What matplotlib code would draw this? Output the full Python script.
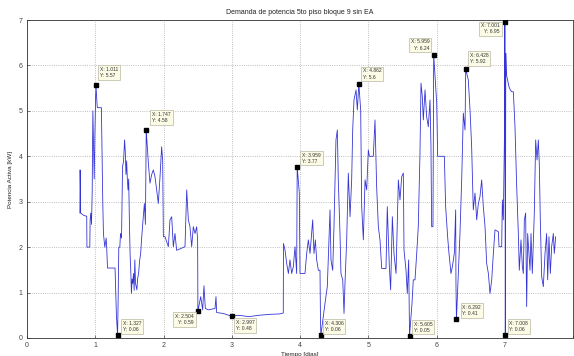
import matplotlib
matplotlib.use("Agg")
import matplotlib.pyplot as plt

# ---- data (time in days, active power in kW) ----
t = [0.775, 0.778, 0.782, 0.786, 0.83, 0.875, 0.878, 0.92, 0.925, 0.935, 0.945, 0.955, 0.965,
     0.975, 0.985, 0.995, 1.005, 1.011, 1.02, 1.03, 1.09, 1.10, 1.11, 1.12, 1.14, 1.16, 1.17,
     1.18, 1.29, 1.30, 1.31, 1.327, 1.335, 1.345, 1.36, 1.37, 1.385, 1.40, 1.415, 1.43, 1.44,
     1.45, 1.46, 1.47, 1.48, 1.49, 1.50, 1.51, 1.52, 1.53, 1.54, 1.55, 1.56, 1.57, 1.58, 1.59,
     1.60, 1.61, 1.62, 1.635, 1.65, 1.665, 1.68, 1.70, 1.72, 1.735, 1.747, 1.778, 1.802, 1.827,
     1.851, 1.875, 1.90, 1.924, 1.949, 1.973, 1.988, 1.998, 2.022, 2.071, 2.095, 2.12, 2.144,
     2.168, 2.193, 2.315, 2.34, 2.364, 2.388, 2.413, 2.437, 2.462, 2.486, 2.50, 2.504, 2.545,
     2.574, 2.593, 2.613, 2.657, 2.755, 2.769, 2.779, 2.877, 2.997, 3.10, 3.25, 3.40, 3.55,
     3.70, 3.755, 3.758, 3.78, 3.805, 3.83, 3.853, 3.878, 3.902, 3.927, 3.951, 3.959, 3.99,
     4.0, 4.073, 4.098, 4.122, 4.147, 4.171, 4.186, 4.205, 4.225, 4.244, 4.269, 4.293, 4.30,
     4.306, 4.366, 4.40, 4.44, 4.454, 4.479, 4.498, 4.527, 4.547, 4.561, 4.586, 4.60, 4.626,
     4.645, 4.659, 4.684, 4.708, 4.733, 4.757, 4.772, 4.791, 4.821, 4.84, 4.862, 4.889, 4.904,
     4.928, 4.953, 4.977, 5.001, 5.016, 5.074, 5.099, 5.123, 5.148, 5.172, 5.197, 5.26, 5.279,
     5.309, 5.328, 5.353, 5.377, 5.407, 5.441, 5.465, 5.49, 5.514, 5.524, 5.553, 5.572, 5.592,
     5.605, 5.641, 5.66, 5.685, 5.71, 5.733, 5.758, 5.773, 5.792, 5.807, 5.832, 5.856, 5.88,
     5.905, 5.919, 5.929, 5.948, 5.959, 6.003, 6.017, 6.115, 6.134, 6.163, 6.183, 6.212, 6.232,
     6.261, 6.281, 6.285, 6.292, 6.344, 6.369, 6.393, 6.418, 6.428, 6.466, 6.491, 6.515, 6.539,
     6.564, 6.589, 6.613, 6.637, 6.662, 6.686, 6.711, 6.735, 6.76, 6.784, 6.809, 6.833, 6.857,
     6.906, 6.916, 6.955, 6.965, 6.979, 6.995, 7.001, 7.004, 7.008, 7.015, 7.025, 7.062, 7.082,
     7.101, 7.126, 7.15, 7.175, 7.199, 7.213, 7.238, 7.258, 7.272, 7.287, 7.306, 7.321, 7.336,
     7.355, 7.37, 7.385, 7.404, 7.433, 7.453, 7.473, 7.492, 7.506, 7.521, 7.541, 7.565, 7.59,
     7.614, 7.629, 7.648, 7.668, 7.687, 7.712, 7.726, 7.746]
p = [2.75, 3.70, 3.35, 2.75, 2.70, 2.68, 2.0, 2.0, 2.6, 2.75, 2.5, 3.2, 5.0,
     4.2, 3.5, 4.5, 5.3, 5.57, 5.3, 5.07, 5.07, 4.0, 3.0, 2.3, 2.0, 2.2, 1.9,
     1.54, 1.54, 1.0, 0.5, 0.06, 0.8, 2.0, 2.0, 2.3, 2.2, 3.77, 3.9, 4.36, 4.1,
     3.6, 3.9, 3.5, 3.26, 3.5, 2.6, 1.86, 1.5, 0.98, 1.3, 1.2, 1.42, 1.05, 1.72, 1.2,
     1.13, 1.06, 1.3, 1.42, 1.7, 1.86, 2.2, 2.60, 2.96, 2.5, 4.58, 3.85, 3.41, 3.6,
     3.70, 3.55, 3.26, 2.96, 3.55, 4.21, 3.9, 2.23, 2.23, 2.01, 2.60, 2.67, 2.01,
     2.30, 1.93, 2.01, 3.26, 2.60, 2.45, 2.01, 2.45, 2.30, 2.45, 2.16, 0.59, 0.91,
     0.62, 1.15, 0.65, 0.62, 0.65, 0.91, 0.56, 0.54, 0.48, 0.50, 0.47, 0.50, 0.52,
     0.53, 0.55, 2.08, 1.94, 1.64, 1.42, 1.72, 1.42, 1.57, 2.01, 1.42, 3.77, 3.19,
     1.42, 1.42, 1.86, 2.16, 1.86, 2.30, 2.60, 1.86, 2.16, 1.72, 1.49, 1.49, 0.4,
     0.06, 0.76, 1.13, 2.82, 1.72, 1.49, 2.45, 4.36, 4.58, 3.48, 2.30, 1.42, 1.28,
     0.54, 1.20, 2.16, 3.63, 2.67, 3.48, 4.58, 5.24, 5.46, 5.02, 5.6, 5.02, 2.89,
     2.16, 3.48, 3.26, 4.14, 4.0, 4.0, 4.80, 3.33, 2.45, 2.16, 1.53, 1.53, 2.89,
     1.57, 1.06, 2.67, 1.86, 1.42, 3.48, 3.04, 3.55, 3.63, 1.94, 1.49, 0.98, 1.72,
     0.05, 0.76, 1.28, 1.28, 1.86, 2.45, 4.07, 5.61, 5.31, 4.80, 5.46, 4.87, 4.65,
     5.24, 4.21, 2.45, 2.45, 6.24, 5.17, 4.0, 4.0, 2.89, 2.23, 1.86, 1.42, 1.57,
     1.86, 2.82, 1.2, 0.41, 2.30, 3.48, 4.95, 4.58, 5.92, 5.68, 5.02, 4.21, 2.82,
     3.19, 2.60, 2.96, 3.11, 3.48, 2.89, 2.45, 1.64, 1.42, 0.98, 1.28, 1.86, 2.38,
     2.34, 2.01, 2.01, 3.04, 2.60, 4.36, 6.95, 5.5, 0.06, 6.27, 5.8, 5.53, 5.46,
     5.42, 5.42, 4.65, 3.33, 2.30, 1.49, 2.16, 1.57, 1.42, 2.60, 2.75, 0.69, 2.30,
     1.86, 1.49, 2.30, 1.42, 2.75, 4.36, 3.92, 4.36, 3.85, 2.60, 1.35, 1.13, 1.86,
     2.30, 1.28, 2.23, 1.42, 2.01, 2.30, 1.86, 2.23]

# data tips
tip_x = [1.011, 1.747, 1.327, 2.504, 2.997, 3.959, 4.306, 4.862, 5.605, 5.959, 6.292, 6.428, 7.001, 7.008]
tip_y = [5.57, 4.58, 0.06, 0.59, 0.48, 3.77, 0.06, 5.6, 0.05, 6.24, 0.41, 5.92, 6.95, 0.06]
tip_lbl_x = ["1.011", "1.747", "1.327", "2.504", "2.997", "3.959", "4.306", "4.862", "5.605",
             "5.959", "6.292", "6.428", "7.001", "7.008"]
tip_lbl_y = ["5.57", "4.58", "0.06", "0.59", "0.48", "3.77", "0.06", "5.6", "0.05",
             "6.24", "0.41", "5.92", "6.95", "0.06"]
# label placement (offset in pixels, alignment)
tip_off = [(4, 7), (6, 7), (5, 3), (-4, -3), (4, -4), (5, 3), (4, 3), (4, 4), (4, 3),
           (-4, 4), (6, 3), (4, 5), (-5, -1), (4, 3)]
tip_ha = ["left", "left", "left", "right", "left", "left", "left", "left", "left",
          "right", "left", "left", "right", "left"]
tip_va = ["bottom", "bottom", "bottom", "top", "top", "bottom", "bottom", "bottom", "bottom",
          "bottom", "bottom", "bottom", "top", "bottom"]

x_ticklabels = ["0", "1", "2", "3", "4", "5", "6", "7", ""]

plt.rcParams['font.family'] = ['Liberation Sans', 'DejaVu Sans']

fig = plt.figure(figsize=(5.74, 3.56), dpi=100)
ax = fig.add_axes([27/574, 18/356, 546/574, 318/356])

ax.plot(t, p, color='#3535d5', lw=0.6)
ax.plot(tip_x, tip_y, 's', color='black', ms=3.2, zorder=5)

for i in range(len(tip_x)):
    ax.annotate("X: %s\nY: %s" % (tip_lbl_x[i], tip_lbl_y[i]), xy=(tip_x[i], tip_y[i]),
                xytext=tip_off[i], textcoords='offset pixels', ha=tip_ha[i], va=tip_va[i],
                fontsize=3.6, color='#333333', linespacing=1.3,
                bbox=dict(boxstyle='square,pad=0.35', fc='#fbfbe6', ec='#b8b8a0', lw=0.5),
                zorder=6)

ax.set_xlim(0, 8)
ax.set_ylim(0, 7)
ax.set_xticks(range(0, 9))
ax.set_xticklabels(x_ticklabels)
ax.set_yticks(range(0, 8))
ax.grid(True, linestyle=':', color='#aaaaaa', lw=0.6)
ax.tick_params(direction='in', length=2.5, width=0.5, labelsize=5, colors='#444444', pad=3)
for s in ax.spines.values():
    s.set_linewidth(0.6)
    s.set_color('#333333')

ax.set_title("Demanda de potencia 5to piso bloque 9 sin EA", fontsize=5, color='#222222', pad=4)
ax.set_xlabel("Tiempo [dias]", fontsize=4.5, color='#222222', labelpad=2)
ax.set_ylabel("Potencia Activa [kW]", fontsize=4.5, color='#222222', labelpad=4)

fig.savefig("out.png", dpi=100)
